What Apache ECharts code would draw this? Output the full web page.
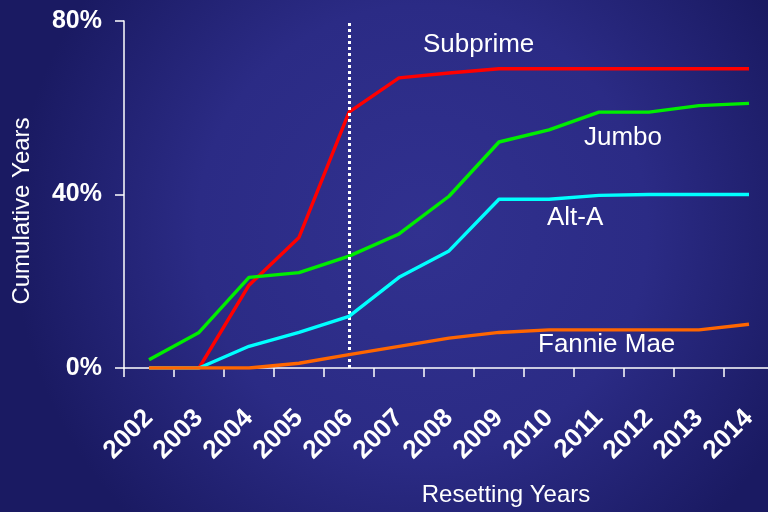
<!DOCTYPE html>
<html><head><meta charset="utf-8">
<script src="https://cdn.jsdelivr.net/npm/echarts@6/dist/echarts.min.js"></script>
<style>html,body{margin:0;padding:0;}#c{width:768px;height:512px;}</style>
</head><body><div id="c"></div>
<script>
const years = ['2002','2003','2004','2005','2006','2007','2008','2009','2010','2011','2012','2013','2014'];
const subprime = [0, 0, 19.1, 30.1, 59, 66.9, 68, 69, 69, 69, 69, 69, 69];
const jumbo = [1.9, 8.2, 20.9, 22, 25.8, 30.9, 39.6, 52.1, 54.9, 59, 59, 60.5, 61];
const altA = [0, 0, 5, 8.2, 11.9, 20.9, 27, 38.9, 38.9, 39.8, 40, 40, 40];
const fannieMae = [0, 0, 0, 1.1, 3.1, 5, 6.9, 8.2, 8.8, 8.8, 8.8, 8.8, 10.1];
const yTicks = [0, 40, 80];
const markerYear = '2006';

const chart = echarts.init(document.getElementById('c'));
const white = '#ffffff';
const FONT = '"Liberation Sans", Arial, sans-serif';
function line(name, data, color, z) {
  return { name, type: 'line', data, symbol: 'none', z,
    lineStyle: { color, width: 3.4 }, itemStyle: { color } };
}
chart.setOption({
  animation: false,
  backgroundColor: {
    type: 'radial', x: 0.55, y: 0.45, r: 0.8,
    colorStops: [{ offset: 0, color: '#31318f' }, { offset: 0.55, color: '#2b2b85' }, { offset: 1, color: '#1a1a62' }]
  },
  grid: { left: 124, top: 21, width: 650, height: 347, outerBoundsMode: 'none', containLabel: false },
  xAxis: {
    type: 'category', data: years, boundaryGap: true,
    axisLine: { lineStyle: { color: white, width: 1.5 } },
    axisTick: { show: true, length: 9, lineStyle: { color: white, width: 1.5 } },
    axisLabel: { rotate: 45, color: white, fontSize: 26, fontWeight: 'bold', fontFamily: FONT, margin: 46 }
  },
  yAxis: {
    type: 'value', min: 0, max: 80, interval: 40,
    splitLine: { show: false },
    axisLine: { show: true, lineStyle: { color: white, width: 1.5 } },
    axisTick: { show: true, length: 9, lineStyle: { color: white, width: 1.5 } },
    axisLabel: { color: white, fontSize: 25, fontWeight: 'bold', fontFamily: FONT, margin: 22,
      formatter: v => yTicks.includes(v) ? v + '%' : '' }
  },
  series: [
    Object.assign(line('Subprime', subprime, '#ff0000', 3), {
      markLine: { silent: true, symbol: 'none', label: { show: false },
        lineStyle: { color: white, type: [3, 3], width: 3 },
        data: [{ xAxis: markerYear }] }
    }),
    line('Jumbo', jumbo, '#00ee00', 4),
    line('Alt-A', altA, '#00ffff', 5),
    line('Fannie Mae', fannieMae, '#ff6600', 6)
  ],
  graphic: [
    { type: 'text', left: 423, top: 32, style: { text: 'Subprime', fill: white, font: '26px ' + FONT } },
    { type: 'text', left: 584, top: 125, style: { text: 'Jumbo', fill: white, font: '26px ' + FONT } },
    { type: 'text', left: 547, top: 205, style: { text: 'Alt-A', fill: white, font: '26px ' + FONT } },
    { type: 'text', left: 538, top: 332, style: { text: 'Fannie Mae', fill: white, font: '26px ' + FONT } },
    { type: 'text', x: 506, y: 495, style: { text: 'Resetting Years', fill: white, font: '24px ' + FONT, align: 'center', verticalAlign: 'middle' } },
    { type: 'text', x: 22, y: 211, rotation: Math.PI / 2, style: { text: 'Cumulative Years', fill: white, font: '24px ' + FONT, align: 'center', verticalAlign: 'middle' } }
  ]
});
</script></body></html>
